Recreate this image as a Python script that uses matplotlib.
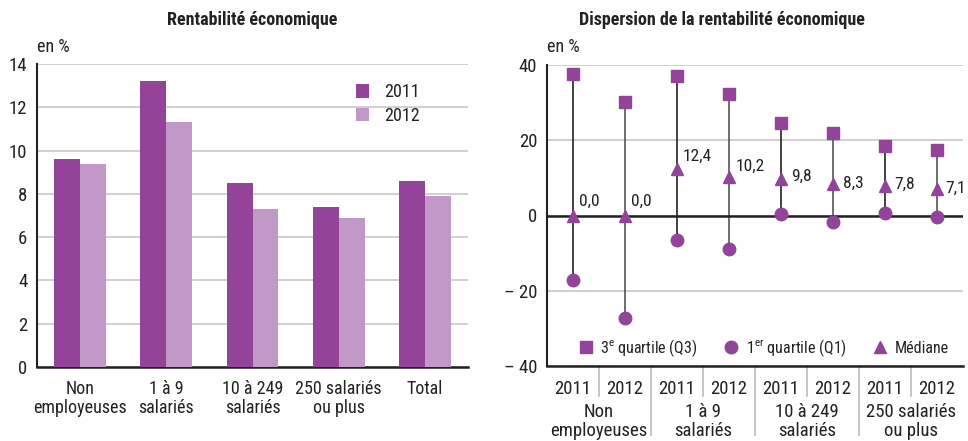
import matplotlib
matplotlib.use("Agg")
import matplotlib.pyplot as plt
import matplotlib.transforms as mtransforms
import numpy as np

plt.rcParams['font.family'] = ['Roboto Condensed', 'DejaVu Sans']
plt.rcParams['mathtext.fontset'] = 'custom'
plt.rcParams['mathtext.rm'] = 'Roboto Condensed'

# ---- data: left chart ----
categories = ["Non\nemployeuses", "1 à 9\nsalariés", "10 à 249\nsalariés", "250 salariés\nou plus", "Total"]
rent_2011 = [9.6, 13.2, 8.5, 7.4, 8.6]
rent_2012 = [9.4, 11.3, 7.3, 6.9, 7.9]
left_yticks = [0, 2, 4, 6, 8, 10, 12, 14]

# ---- data: right chart ----
groups = ["Non\nemployeuses", "1 à 9\nsalariés", "10 à 249\nsalariés", "250 salariés\nou plus"]
years = ["2011", "2012"]
q3 = [37.5, 30.1, 37.2, 32.4, 24.5, 21.9, 18.4, 17.3]
q1 = [-17.1, -27.3, -6.5, -9.0, 0.3, -1.6, 0.7, -0.4]
median = [0.0, 0.0, 12.4, 10.2, 9.8, 8.3, 7.8, 7.1]
median_labels = ["0,0", "0,0", "12,4", "10,2", "9,8", "8,3", "7,8", "7,1"]
right_yticks = [-40, -20, 0, 20, 40]
right_ytick_labels = ["– 40", "– 20", "0", "20", "40"]

dark = "#93449a"
light = "#c198c8"
grid_c = "#c8c8c8"
txt = "#222222"

fig = plt.figure(figsize=(9.68, 4.41), dpi=100)

# ================= Left chart =================
ax1 = fig.add_axes([37/968, 1-367/441, 431/968, 303/441])
x = np.arange(len(categories))
w = 0.3
ax1.bar(x - w/2, rent_2011, width=w, color=dark, label="2011", zorder=3)
ax1.bar(x + w/2, rent_2012, width=w, color=light, label="2012", zorder=3)
ax1.set_xlim(-0.5, len(categories) - 0.5)
ax1.set_ylim(0, 14)
ax1.set_yticks(left_yticks)
ax1.set_yticklabels([str(v) for v in left_yticks], fontsize=13.5, color=txt)
ax1.set_xticks(x)
ax1.set_xticklabels(categories, fontsize=13, color=txt, linespacing=1.1)
ax1.tick_params(axis='both', length=0)
ax1.tick_params(axis='x', pad=9)
ax1.tick_params(axis='y', pad=7)
ax1.yaxis.grid(True, color=grid_c, linewidth=1.2, zorder=0)
ax1.set_axisbelow(True)
for s in ["top", "right"]:
    ax1.spines[s].set_visible(False)
ax1.spines["left"].set_color("#222222")
ax1.spines["bottom"].set_color("#222222")
ax1.spines["left"].set_linewidth(1.5)
ax1.spines["bottom"].set_linewidth(1.8)
leg1 = ax1.legend(loc="upper right", bbox_to_anchor=(0.925, 0.99), frameon=False,
                  fontsize=13, handlelength=0.75, handleheight=0.75, handletextpad=0.8,
                  labelspacing=0.3)
for t in leg1.get_texts():
    t.set_color(txt)
fig.text(252/968, 1-20/441, "Rentabilité économique", ha="center", va="center",
         fontsize=13, fontweight="bold", color=txt)
fig.text(37/968, 1-47/441, "en %", ha="left", va="center", fontsize=13, color=txt)

# ================= Right chart =================
ax2 = fig.add_axes([547/968, 1-366/441, 416/968, 301/441])
n = len(q3)
xp = np.arange(n)
for i in range(n):
    ax2.plot([xp[i], xp[i]], [q1[i], q3[i]], color="#222222" if i % 2 == 0 else "#555555",
             linewidth=1.2, zorder=2)
ax2.plot(xp, q3, linestyle="none", marker="s", markersize=9, color=dark, zorder=4,
         label="3$^{\\mathrm{e}}$ quartile (Q3)")
ax2.plot(xp, q1, linestyle="none", marker="o", markersize=9, color=dark, zorder=4,
         label="1$^{\\mathrm{er}}$ quartile (Q1)")
ax2.plot(xp, median, linestyle="none", marker="^", markersize=9, color=dark, zorder=4,
         label="Médiane")
offsets = [(4, 10), (4, 10), (4, 9), (5, 8), (7, 2), (7, 1), (7, 1), (6, 0)]
for i in range(n):
    ax2.annotate(median_labels[i], (xp[i], median[i]), xytext=offsets[i],
                 textcoords="offset points", ha="left", va="center",
                 fontsize=12.5, color=txt, zorder=5)
ax2.axhline(0, color="#222222", linewidth=1.8, zorder=3)
ax2.set_xlim(-0.5, n - 0.5)
ax2.set_ylim(-40, 40)
ax2.set_yticks(right_yticks)
ax2.set_yticklabels(right_ytick_labels, fontsize=13.5, color=txt)
ax2.set_xticks(xp)
ax2.set_xticklabels([years[i % 2] for i in range(n)], fontsize=13.5, color=txt)
ax2.tick_params(axis='both', length=0)
ax2.tick_params(axis='x', pad=10)
ax2.tick_params(axis='y', pad=7)
ax2.yaxis.grid(True, color=grid_c, linewidth=1.2, zorder=0)
ax2.set_axisbelow(True)
for s in ["top", "right"]:
    ax2.spines[s].set_visible(False)
ax2.spines["left"].set_color("#222222")
ax2.spines["bottom"].set_color("#222222")
ax2.spines["left"].set_linewidth(1.5)
ax2.spines["bottom"].set_linewidth(1.8)

trans = mtransforms.blended_transform_factory(ax2.transData, ax2.transAxes)
for i in range(n - 1):
    xs = i + 0.5
    y_end = -30/301 if i % 2 == 0 else -69/301
    ax2.plot([xs, xs], [0, y_end], transform=trans, color="#bbbbbb", linewidth=1.2,
             clip_on=False)
for g in range(len(groups)):
    ax2.text(2*g + 0.5, -37/301, groups[g], transform=trans, ha="center", va="top",
             fontsize=13.5, color=txt, linespacing=1.05, clip_on=False)

leg2 = ax2.legend(loc="center", bbox_to_anchor=(0.52, 0.06), ncol=3, frameon=False,
                  fontsize=11.5, handletextpad=0.4, columnspacing=1.6, handlelength=1.0,
                  numpoints=1)
for t in leg2.get_texts():
    t.set_color(txt)

fig.text(722/968, 1-20/441, "Dispersion de la rentabilité économique", ha="center",
         va="center", fontsize=13, fontweight="bold", color=txt)
fig.text(547/968, 1-47/441, "en %", ha="left", va="center", fontsize=13, color=txt)

fig.savefig("out.png", dpi=100, facecolor="white")
